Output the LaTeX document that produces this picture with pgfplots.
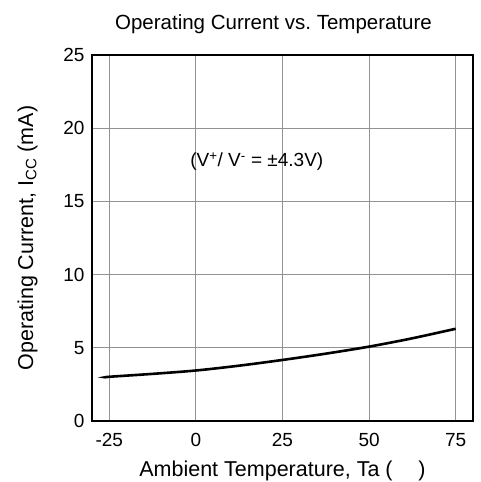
\documentclass[border=0pt]{standalone}
\usepackage{fontspec}
\setmainfont{Liberation Sans}
\usepackage{pgfplots}
\pgfplotsset{compat=1.18}
\begin{document}
\fontsize{19}{22}\selectfont
\begin{tikzpicture}
  \begin{axis}[
    name=ax,
    scale only axis,
    width=381pt, height=366pt,
    xmin=-30, xmax=80,
    ymin=0, ymax=25,
    xtick={-25,0,25,50,75},
    ytick={0,5,10,15,20,25},
    grid=major,
    major grid style={gray!85, line width=1pt},
    axis line style={line width=1.4pt},
    major tick length=0pt,
    /pgf/number format/assume math mode=true,
    ticklabel style={font=\fontsize{19}{22}\selectfont},
    xticklabel style={yshift=-6pt},
    yticklabel style={xshift=-1pt},
    title={Operating Current vs.\ Temperature},
    title style={font=\fontsize{20.5}{23}\selectfont, yshift=9pt, xshift=-9pt},
    xlabel={Ambient Temperature, Ta (\hspace{1.2em})},
    ylabel={Operating Current, I\textsubscript{CC} (mA)},
    label style={font=\fontsize{21.5}{24}\selectfont},
    xlabel style={yshift=-1pt},
    ylabel style={yshift=13pt},
  ]
  \addplot[black, line width=2.6pt, smooth] coordinates {
    (-26,2.98) (-25,3.02) (-12.5,3.22) (0,3.45) (12.5,3.78)
    (25,4.17) (37.5,4.6) (50,5.08) (62.5,5.65) (75,6.3)
  };
  \node at (axis cs:17.6,17.7) {(V\textsuperscript{+}/ V\textsuperscript{-} = ±4.3V)};
  \end{axis}
  \pgfresetboundingbox
  \path ([shift={(-92pt,-61pt)}]ax.south west) rectangle ++(480pt,482pt);
\end{tikzpicture}
\end{document}
